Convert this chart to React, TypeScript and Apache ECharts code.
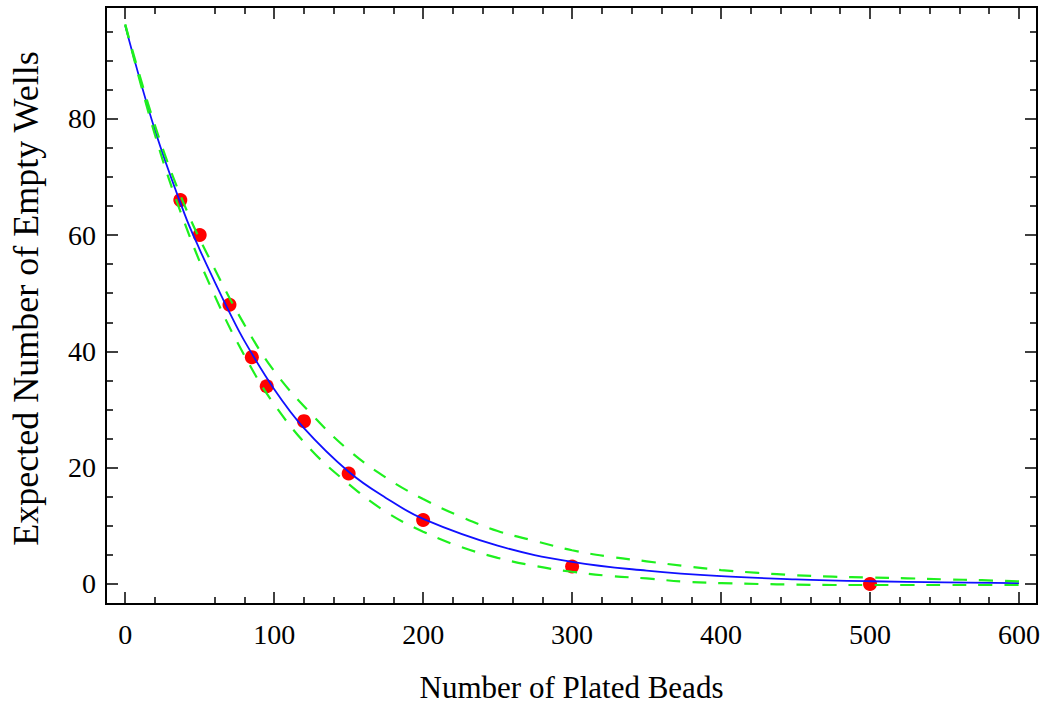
import React, { useEffect, useRef } from "react";
import * as echarts from "echarts";

// Measured data points (red)
const beadsPlated = [37, 50, 70, 85, 95, 120, 150, 200, 300, 500];
const emptyWells = [66, 60, 48, 39, 34, 28, 19, 11, 3, 0];

// Fitted curve (blue)
const fitX = [0, 20, 40, 50, 60, 70, 80, 100, 120, 150, 175, 200, 250, 300, 350, 400, 450, 500, 550, 600];
const fitY = [96, 78, 63.5, 57.5, 52, 46.7, 41.8, 33.5, 26.8, 19.3, 14.8, 11.2, 6.6, 3.8, 2.3, 1.35, 0.8, 0.47, 0.28, 0.16];

// Confidence bands (green dashed)
const bandX = [0, 20, 40, 60, 80, 100, 125, 150, 175, 200, 225, 250, 275, 300, 325, 350, 375, 400, 425, 450, 475, 500, 525, 550, 575, 600];
const upperY = [96.2, 78.8, 65, 54.2, 44.6, 36.6, 29.2, 23.0, 18.3, 14.6, 11.6, 9.1, 7.4, 5.8, 4.7, 3.9, 3.1, 2.4, 1.9, 1.5, 1.26, 1.1, 0.98, 0.8, 0.65, 0.45];
const lowerY = [96.2, 77.2, 62, 49.6, 39.3, 30.9, 23.0, 17.2, 12.4, 9.0, 6.4, 4.5, 3.1, 2.1, 1.4, 0.95, 0.4, 0.15, 0.0, -0.1, -0.17, -0.17, -0.17, -0.17, -0.17, -0.17];

// Ticks
const xMajorTicks = [0, 100, 200, 300, 400, 500, 600];
const xMinorTicks = [20, 60, 80, 120, 140, 160, 180, 220, 240, 260, 280, 320, 340, 360, 380, 420, 440, 460, 480, 520, 540, 560, 580];
const yMajorTicks = [0, 20, 40, 60, 80];
const yMinorTicks = [5, 10, 15, 25, 30, 35, 45, 50, 55, 65, 70, 75, 85, 90, 95];

const X_MIN = -12.9;
const X_MAX = 612.1;
const Y_MIN = -3.44;
const Y_MAX = 99.2;

const FONT = "'Liberation Serif', 'Times New Roman', serif";

function mkAxis(kind: "x" | "y", position: string, ticks: number[], len: number, labels: boolean) {
  const base: any = {
    type: "value",
    position,
    min: kind === "x" ? X_MIN : Y_MIN,
    max: kind === "x" ? X_MAX : Y_MAX,
    axisLine: { show: false, onZero: false },
    splitLine: { show: false },
    axisTick: {
      show: true,
      inside: true,
      length: len,
      customValues: ticks,
      lineStyle: { color: "#000", width: 1.5 },
    },
    axisLabel: labels
      ? {
          show: true,
          customValues: ticks,
          color: "#000",
          fontFamily: FONT,
          fontSize: 28,
          margin: kind === "x" ? 16 : 10,
        }
      : { show: false },
  };
  return base;
}

export default function App() {
  const ref = useRef<HTMLDivElement>(null);

  useEffect(() => {
    if (!ref.current) return;
    const chart = echarts.init(ref.current, null, { renderer: "svg" });

    const xAxes = [
      {
        ...mkAxis("x", "bottom", xMajorTicks, 12, true),
        name: "Number of Plated Beads",
        nameLocation: "middle",
        nameGap: 68,
        nameTextStyle: { color: "#000", fontFamily: FONT, fontSize: 31 },
      },
      mkAxis("x", "bottom", xMinorTicks, 7, false),
      mkAxis("x", "top", xMajorTicks, 12, false),
      mkAxis("x", "top", xMinorTicks, 7, false),
    ];
    const yAxes = [
      {
        ...mkAxis("y", "left", yMajorTicks, 12, true),
        name: "Expected Number of Empty Wells",
        nameLocation: "middle",
        nameGap: 62,
        nameTextStyle: { color: "#000", fontFamily: FONT, fontSize: 36, padding: [0, 0, 0, 14] },
      },
      mkAxis("y", "left", yMinorTicks, 7, false),
      mkAxis("y", "right", yMajorTicks, 12, false),
      mkAxis("y", "right", yMinorTicks, 7, false),
    ];

    chart.setOption({
      animation: false,
      backgroundColor: "#fff",
      grid: {
        left: 106,
        top: 7,
        right: 13,
        bottom: 106,
        show: true,
        borderColor: "#000",
        borderWidth: 2,
        backgroundColor: "transparent",
      },
      xAxis: xAxes,
      yAxis: yAxes,
      series: [
        {
          type: "scatter",
          name: "Data",
          data: beadsPlated.map((x, i) => [x, emptyWells[i]]),
          symbol: "circle",
          symbolSize: 14,
          itemStyle: { color: "#ff0000", opacity: 1 },
          z: 2,
        },
        {
          type: "line",
          name: "Fit",
          data: fitX.map((x, i) => [x, fitY[i]]),
          smooth: 0.4,
          showSymbol: false,
          lineStyle: { color: "#1010ff", width: 1.8 },
          z: 3,
        },
        {
          type: "line",
          name: "Upper",
          data: bandX.map((x, i) => [x, upperY[i]]),
          smooth: 0.4,
          showSymbol: false,
          lineStyle: { color: "#1ef01e", width: 2.2, type: [14, 12] },
          z: 4,
        },
        {
          type: "line",
          name: "Lower",
          data: bandX.map((x, i) => [x, lowerY[i]]),
          smooth: 0.4,
          showSymbol: false,
          lineStyle: { color: "#1ef01e", width: 2.2, type: [14, 12] },
          z: 4,
        },
      ],
    });

    return () => chart.dispose();
  }, []);

  return (
    <div
      ref={ref}
      style={{ position: "absolute", left: 0, top: 0, width: 1050, height: 710, background: "#fff" }}
    />
  );
}
